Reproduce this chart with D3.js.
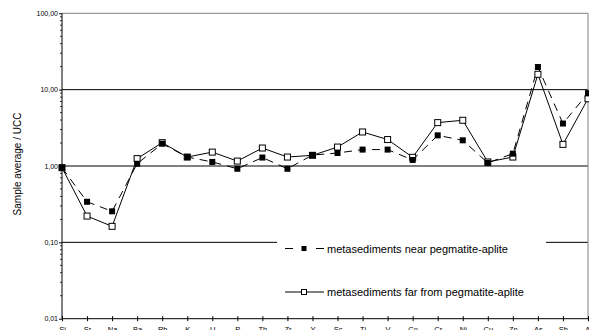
<!DOCTYPE html>
<html>
<head>
<meta charset="utf-8">
<script src="https://cdn.jsdelivr.net/npm/d3@7"></script>
<style>
  body { margin: 0; background: #fff; }
  svg { font-family: "Liberation Sans", Arial, sans-serif; }
</style>
</head>
<body>
<div id="chart"></div>
<script>
// elements along the x axis
var elements = ["Si","Sr","Na","Ba","Rb","K","U","P","Th","Zr","Y","Sc","Ti","V","Co","Cr","Ni","Cu","Zn","As","Sb","Al"];
// sample average / UCC
var nearValues = [0.95,0.34,0.255,1.07,1.96,1.31,1.13,0.92,1.29,0.92,1.39,1.48,1.64,1.64,1.2,2.52,2.17,1.1,1.45,19.8,3.6,9.0];
var farValues  = [0.95,0.221,0.162,1.25,2.02,1.31,1.52,1.16,1.72,1.31,1.38,1.77,2.79,2.22,1.3,3.7,3.97,1.13,1.31,15.9,1.92,7.6];
var yTicks = [0.01,0.1,1,10,100];
var yTickLabels = ["0,01","0,10","1,00","10,00","100,00"];
var seriesNames = ["metasediments near pegmatite-aplite","metasediments far from pegmatite-aplite"];

var width = 589, height = 330;
var plotLeft = 62, plotRight = 588, plotTop = 13.3, plotBottom = 318.7;

var svg = d3.select("#chart").append("svg")
  .attr("width", width)
  .attr("height", height);

var x = d3.scalePoint().domain(elements).range([plotLeft, plotRight]);
var y = d3.scaleLog().domain([0.01, 100]).range([plotBottom, plotTop]);

// gridlines
svg.append("line")
  .attr("x1", plotLeft).attr("x2", plotRight)
  .attr("y1", y(10)).attr("y2", y(10))
  .attr("stroke", "#000").attr("stroke-width", 1);
svg.append("line")
  .attr("x1", plotLeft).attr("x2", plotRight)
  .attr("y1", y(0.1)).attr("y2", y(0.1))
  .attr("stroke", "#000").attr("stroke-width", 1);
svg.append("line")
  .attr("x1", plotLeft).attr("x2", plotRight)
  .attr("y1", y(1)).attr("y2", y(1))
  .attr("stroke", "#808080").attr("stroke-width", 2);

// plot frame top / right
svg.append("path")
  .attr("d", "M" + plotLeft + "," + y(100) + "H" + plotRight + "V" + plotBottom)
  .attr("fill", "none")
  .attr("stroke", "#808080")
  .attr("stroke-width", 1);

// y axis with minor ticks
var minor = [];
[0.01, 0.1, 1, 10].forEach(function(d) {
  for (var k = 2; k <= 9; k++) minor.push(d * k);
});
svg.append("g").selectAll("line.minor")
  .data(minor)
  .enter().append("line")
  .attr("x1", plotLeft - 2).attr("x2", plotLeft)
  .attr("y1", d => y(d)).attr("y2", d => y(d))
  .attr("stroke", "#000").attr("stroke-width", 0.8);

var yAxis = d3.axisLeft(y)
  .tickValues(yTicks)
  .tickFormat((d, i) => yTickLabels[i])
  .tickSize(3)
  .tickPadding(1);
var gy = svg.append("g")
  .attr("transform", "translate(" + plotLeft + ",0)")
  .call(yAxis);
gy.select(".domain").attr("stroke", "#000").attr("d", "M0," + plotBottom + "V" + plotTop);
gy.selectAll("text").style("font-size", "7px").attr("fill", "#000");

// x axis
var xAxis = d3.axisBottom(x).tickSize(2.5).tickPadding(5);
var gx = svg.append("g")
  .attr("transform", "translate(0," + plotBottom + ")")
  .call(xAxis);
gx.select(".domain").attr("d", "M" + plotLeft + ",0H" + plotRight);
gx.selectAll(".tick line").attr("y1", -2.5);
gx.selectAll("text").style("font-size", "7.5px").attr("fill", "#000");

// y title
svg.append("text")
  .attr("transform", "translate(21," + 164 + ") rotate(-90)")
  .attr("text-anchor", "middle")
  .style("font-size", "10px")
  .text("Sample average / UCC");

var line = d3.line()
  .x((d, i) => x(elements[i]))
  .y(d => y(d));

// far series (solid, open squares)
svg.append("path")
  .datum(farValues)
  .attr("d", line)
  .attr("fill", "none")
  .attr("stroke", "#000")
  .attr("stroke-width", 1);
// near series (dashed, filled squares)
svg.append("path")
  .datum(nearValues)
  .attr("d", line)
  .attr("fill", "none")
  .attr("stroke", "#000")
  .attr("stroke-width", 1)
  .attr("stroke-dasharray", "8,6");

var s = 6;
svg.selectAll("rect.far")
  .data(farValues)
  .enter().append("rect")
  .attr("x", (d, i) => x(elements[i]) - s / 2)
  .attr("y", d => y(d) - s / 2)
  .attr("width", s).attr("height", s)
  .attr("fill", "#fff")
  .attr("stroke", "#000")
  .attr("stroke-width", 1);
svg.selectAll("rect.near")
  .data(nearValues)
  .enter().append("rect")
  .attr("x", (d, i) => x(elements[i]) - s / 2)
  .attr("y", d => y(d) - s / 2)
  .attr("width", s).attr("height", s)
  .attr("fill", "#000");

// legend
var legend = svg.append("g");
legend.append("rect")
  .attr("x", 277).attr("y", 232)
  .attr("width", 269).attr("height", 78)
  .attr("fill", "#fff");

var rows = [
  { name: seriesNames[0], y: 248.5, dash: "8,23", filled: true },
  { name: seriesNames[1], y: 292, dash: null, filled: false }
];
rows.forEach(function(r) {
  legend.append("line")
    .attr("x1", 285).attr("x2", 324)
    .attr("y1", r.y).attr("y2", r.y)
    .attr("stroke", "#000")
    .attr("stroke-dasharray", r.dash);
  legend.append("rect")
    .attr("x", 304 - 2.5).attr("y", r.y - 2.5)
    .attr("width", 5).attr("height", 5)
    .attr("fill", r.filled ? "#000" : "#fff")
    .attr("stroke", "#000")
    .attr("stroke-width", r.filled ? 0 : 1);
  legend.append("text")
    .attr("x", 327).attr("y", r.y + 4)
    .style("font-size", "11px")
    .text(r.name);
});
</script>
</body>
</html>
